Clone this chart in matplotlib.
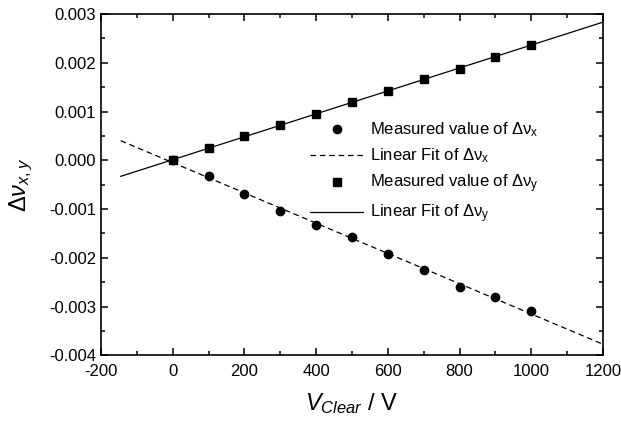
import numpy as np
import matplotlib.pyplot as plt
from matplotlib.ticker import MultipleLocator, FormatStrFormatter

plt.rcParams['font.family'] = ['Liberation Sans', 'DejaVu Sans']
plt.rcParams['mathtext.fontset'] = 'custom'
plt.rcParams['mathtext.rm'] = 'Liberation Sans'
plt.rcParams['mathtext.it'] = 'Liberation Sans:italic'
plt.rcParams['axes.unicode_minus'] = False

# Data
v_clear = [0, 100, 200, 300, 400, 500, 600, 700, 800, 900, 1000]
dnu_x = [0.0, -0.000313, -0.000701, -0.00103, -0.00132, -0.00157,
         -0.00192, -0.00226, -0.00259, -0.00281, -0.00309]
dnu_y = [0.0, 0.000245, 0.00049, 0.000727, 0.00096, 0.0012,
         0.001414, 0.00166, 0.00188, 0.00213, 0.00237]
fit_range = [-145, 1200]

# linear fits
px = np.polyfit(v_clear, dnu_x, 1)
py = np.polyfit(v_clear, dnu_y, 1)
xf = np.array(fit_range)

fig = plt.figure(figsize=(6.21, 4.28), dpi=100)
ax = fig.add_axes([0.1626, 0.17, 0.8084, 0.797])

ax.plot(v_clear, dnu_x, 'o', color='black', ms=6, label=r'Measured value of Δν$_\mathregular{x}$')
ax.plot(xf, np.polyval(px, xf), color='black', lw=0.9, dashes=(4.5, 3),
        label=r'Linear Fit of Δν$_\mathregular{x}$')
ax.plot(v_clear, dnu_y, 's', color='black', ms=6, label=r'Measured value of Δν$_\mathregular{y}$')
ax.plot(xf, np.polyval(py, xf), color='black', lw=0.9,
        label=r'Linear Fit of Δν$_\mathregular{y}$')

ax.set_xlim(-200, 1200)
ax.set_ylim(-0.004, 0.003)
ax.xaxis.set_major_locator(MultipleLocator(200))
ax.xaxis.set_minor_locator(MultipleLocator(100))
ax.yaxis.set_major_locator(MultipleLocator(0.001))
ax.yaxis.set_minor_locator(MultipleLocator(0.0005))
ax.yaxis.set_major_formatter(FormatStrFormatter('%.3f'))
ax.tick_params(which='both', direction='in', top=True, right=True, width=1.1, labelsize=12)
ax.tick_params(which='major', length=5)
ax.tick_params(which='minor', length=3)
ax.tick_params(axis='x', pad=6)
for s in ax.spines.values():
    s.set_linewidth(1.2)

ax.set_xlabel(r'$V_{Clear}$ / V', fontsize=17, labelpad=9)
ax.set_ylabel(r'$Δν_{x,y}$', fontsize=17, labelpad=10)

ax.legend(loc='upper left', bbox_to_anchor=(0.40, 0.713), frameon=False, fontsize=12,
          handlelength=3.2, handletextpad=0.4, labelspacing=0.45, borderpad=0)

fig.savefig('out.png', dpi=100)
